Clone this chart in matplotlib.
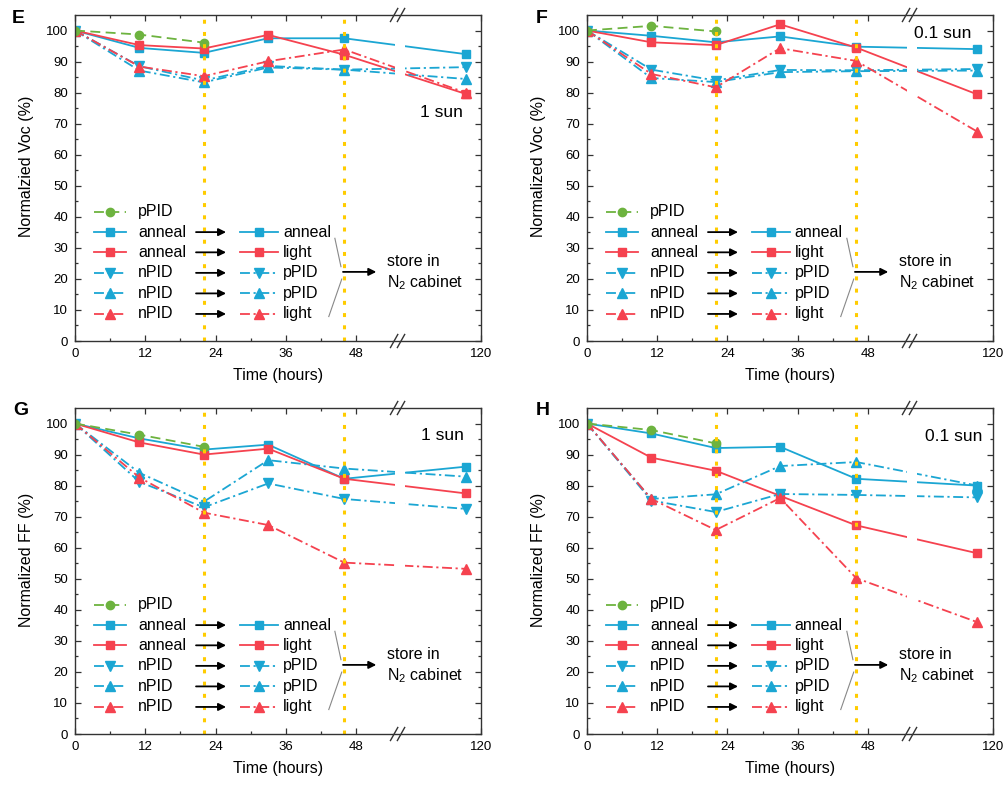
import numpy as np
import matplotlib
matplotlib.use('Agg')
import matplotlib.pyplot as plt

plt.rcParams['font.family'] = ['Liberation Sans', 'DejaVu Sans']
plt.rcParams['mathtext.default'] = 'regular'

# ---------------- data ----------------
t_ppid = [0, 11, 22]
t_all = [0, 11, 22, 33, 46, 108]
x_ticks = [0, 12, 24, 36, 48, 120]
x_minor = [6, 18, 30, 42]
y_ticks = [0, 10, 20, 30, 40, 50, 60, 70, 80, 90, 100]
switch_times = [22, 46]

panel_letters = ['E', 'F', 'G', 'H']
ylabels = ['Normalzied Voc (%)', 'Normalized Voc (%)', 'Normalized FF (%)', 'Normalized FF (%)']
conditions = ['1 sun', '0.1 sun', '1 sun', '0.1 sun']

left_labels = ['pPID', 'anneal', 'anneal', 'nPID', 'nPID', 'nPID']
right_labels = [None, 'anneal', 'light', 'pPID', 'pPID', 'light']
store_text = ['store in', 'N$_2$ cabinet']

# E: Voc, 1 sun
E_ppid = [100, 98.7, 96.1]
E_anneal_anneal = [100, 94.4, 92.8, 97.5, 97.5, 92.4]
E_anneal_light = [100, 95.3, 94.2, 98.6, 92.2, 79.6]
E_npid_ppid_dn = [100, 88.5, 83.9, 88.6, 87.4, 88.2]
E_npid_ppid_up = [100, 87.1, 83.3, 88.1, 87.4, 84.4]
E_npid_light = [100, 88.4, 85.3, 90.1, 93.9, 80.0]

# F: Voc, 0.1 sun
F_ppid = [100, 101.5, 99.7]
F_anneal_anneal = [100, 98.3, 96.2, 98.1, 94.8, 94.0]
F_anneal_light = [100, 96.2, 95.3, 102.0, 94.5, 79.4]
F_npid_ppid_dn = [100, 87.4, 83.9, 87.3, 87.2, 87.6]
F_npid_ppid_up = [100, 84.7, 83.4, 86.6, 86.9, 87.1]
F_npid_light = [100, 86.0, 81.7, 94.3, 90.2, 67.4]

# G: FF, 1 sun
G_ppid = [100, 96.4, 92.5]
G_anneal_anneal = [100, 95.2, 91.6, 93.2, 82.2, 86.1]
G_anneal_light = [100, 93.9, 90.0, 91.9, 82.2, 77.5]
G_npid_ppid_dn = [100, 81.2, 73.0, 80.7, 75.7, 72.5]
G_npid_ppid_up = [100, 84.1, 74.8, 88.2, 85.5, 82.9]
G_npid_light = [100, 82.6, 71.3, 67.3, 55.2, 53.2]

# H: FF, 0.1 sun
H_ppid = [100, 97.9, 93.6]
H_anneal_anneal = [100, 96.8, 92.1, 92.5, 82.2, 80.0]
H_anneal_light = [100, 89.0, 84.8, 76.7, 67.2, 58.2]
H_npid_ppid_dn = [100, 75.2, 71.5, 77.3, 77.0, 76.2]
H_npid_ppid_up = [100, 75.7, 77.2, 86.3, 87.6, 80.0]
H_npid_light = [100, 75.7, 65.7, 76.0, 50.2, 36.0]

panels = [
    (E_ppid, E_anneal_anneal, E_anneal_light, E_npid_ppid_dn, E_npid_ppid_up, E_npid_light),
    (F_ppid, F_anneal_anneal, F_anneal_light, F_npid_ppid_dn, F_npid_ppid_up, F_npid_light),
    (G_ppid, G_anneal_anneal, G_anneal_light, G_npid_ppid_dn, G_npid_ppid_up, G_npid_light),
    (H_ppid, H_anneal_anneal, H_anneal_light, H_npid_ppid_dn, H_npid_ppid_up, H_npid_light),
]

# ---------------- styles ----------------
BLUE = '#1BA6D3'
RED = '#F5424F'
GREEN = '#6DB33F'
YELLOW = '#FFCC00'
LW = 1.3
DASH = (0, (5.5, 3))
DASHDOT = (0, (5.5, 2, 1.2, 2))

# series order: ppid, anneal_anneal, anneal_light, npid_ppid_dn, npid_ppid_up, npid_light
styles = [
    dict(color=GREEN, ls=DASH, marker='o', ms=6, z=8),
    dict(color=BLUE, ls='-', marker='s', ms=5.5, z=3),
    dict(color=RED, ls='-', marker='s', ms=5.5, z=4),
    dict(color=BLUE, ls=DASHDOT, marker='v', ms=6.5, z=5),
    dict(color=BLUE, ls=DASHDOT, marker='^', ms=6.5, z=6),
    dict(color=RED, ls=DASHDOT, marker='^', ms=6.5, z=7),
]

# broken x axis: linear up to 55 h, compressed afterwards
BRK = 55.0
K = 0.221


def fwd(t):
    t = np.asarray(t, dtype=float)
    return np.where(t <= BRK, t, BRK + (t - BRK) * K)


def inv(u):
    u = np.asarray(u, dtype=float)
    return np.where(u <= BRK, u, BRK + (u - BRK) / K)


fig = plt.figure(figsize=(10.07, 7.89), dpi=100)
positions = [
    [0.0745, 0.5678, 0.4032, 0.4132],
    [0.5829, 0.5678, 0.4032, 0.4132],
    [0.0745, 0.0697, 0.4032, 0.4132],
    [0.5829, 0.0697, 0.4032, 0.4132],
]
cond_pos = [(0.955, 0.70), (0.946, 0.943), (0.958, 0.917), (0.975, 0.913)]
letter_pos = [(0.012, 0.977), (0.532, 0.977), (0.013, 0.480), (0.532, 0.480)]

rows_y = [0.397, 0.334, 0.272, 0.209, 0.146, 0.083]

for i, pos in enumerate(positions):
    ax = fig.add_axes(pos)
    ax.set_xscale('function', functions=(fwd, inv))
    ax.set_xlim(0, 120)
    ax.set_ylim(0, 105)
    data = panels[i]

    for d, st in zip(data, styles):
        xs = t_ppid if len(d) == 3 else t_all
        ax.plot(xs, d, color=st['color'], ls=st['ls'], lw=LW, marker=st['marker'],
                ms=st['ms'], mec=st['color'], zorder=st['z'])

    # gap in the lines at the axis break
    ax.axvspan(54.6, 61.5, color='white', zorder=9, lw=0)

    for tv in switch_times:
        ax.axvline(tv, color=YELLOW, lw=2.2, ls=(0, (1.3, 2.7)), zorder=10)

    ax.set_xticks(x_ticks)
    ax.set_xticklabels([str(v) for v in x_ticks])
    ax.set_xticks(x_minor, minor=True)
    ax.set_yticks(y_ticks)
    ax.set_yticks(np.arange(5, 105, 10), minor=True)
    ax.tick_params(which='both', direction='in', top=True, right=True,
                   labelsize=9.5, color='#333333', width=0.9)
    ax.tick_params(which='major', length=4.5, pad=5)
    ax.tick_params(which='minor', length=2.5)
    for sp in ax.spines.values():
        sp.set_linewidth(1.0)
        sp.set_color('#333333')
        sp.set_zorder(12)

    ax.set_xlabel('Time (hours)', fontsize=11.5, labelpad=6)
    ax.set_ylabel(ylabels[i], fontsize=11.5)
    ax.yaxis.set_label_coords(-0.10, 0.535)

    # break marks
    bx = fwd(BRK) / fwd(120)
    for yb in (0, 1):
        for dx in (-0.007, 0.010):
            ax.plot([bx + dx - 0.009, bx + dx + 0.009], [yb - 0.02, yb + 0.02],
                    transform=ax.transAxes, color='#333333', lw=1.0, clip_on=False, zorder=13)

    ax.text(cond_pos[i][0], cond_pos[i][1], conditions[i], transform=ax.transAxes,
            ha='right', va='center', fontsize=12.5, zorder=15)

    # custom legend
    for r, (ll, rl, st) in enumerate(zip(left_labels, right_labels, styles)):
        y = rows_y[r]
        x0, x1 = 0.047, 0.126
        ax.plot([x0, (x0 + x1) / 2, x1], [y] * 3, transform=ax.transAxes,
                color=st['color'], ls=st['ls'], lw=LW, marker=st['marker'], ms=st['ms'],
                markevery=[1], mec=st['color'], clip_on=False, zorder=15)
        ax.text(0.155, y, ll, transform=ax.transAxes, ha='left', va='center',
                fontsize=11.5, zorder=15)
        if rl is not None:
            ax.annotate('', xy=(0.372, y), xytext=(0.298, y), xycoords='axes fraction',
                        arrowprops=dict(arrowstyle='-|>', color='black', lw=1.3,
                                        mutation_scale=11, shrinkA=0, shrinkB=0), zorder=15)
            x0b, x1b = 0.406, 0.500
            ax.plot([x0b, (x0b + x1b) / 2, x1b], [y] * 3, transform=ax.transAxes,
                    color=st['color'], ls=st['ls'], lw=LW, marker=st['marker'], ms=st['ms'],
                    markevery=[1], mec=st['color'], clip_on=False, zorder=15)
            ax.text(0.512, y, rl, transform=ax.transAxes, ha='left', va='center',
                    fontsize=11.5, zorder=15)

    ax.plot([0.640, 0.655], [0.315, 0.228], transform=ax.transAxes, color='#888888', lw=0.8, zorder=15)
    ax.plot([0.625, 0.657], [0.075, 0.190], transform=ax.transAxes, color='#888888', lw=0.8, zorder=15)
    ax.annotate('', xy=(0.742, 0.212), xytext=(0.660, 0.212), xycoords='axes fraction',
                arrowprops=dict(arrowstyle='-|>', color='black', lw=1.3,
                                mutation_scale=11, shrinkA=0, shrinkB=0), zorder=15)
    ax.text(0.768, 0.243, store_text[0], transform=ax.transAxes, ha='left', va='center',
            fontsize=11.5, zorder=16)
    ax.text(0.768, 0.178, store_text[1], transform=ax.transAxes, ha='left', va='center',
            fontsize=11.5, zorder=16)

    fig.text(letter_pos[i][0], letter_pos[i][1], panel_letters[i], fontsize=14,
             fontweight='bold', ha='left', va='center')

fig.savefig('out.png', dpi=100, facecolor='white')
